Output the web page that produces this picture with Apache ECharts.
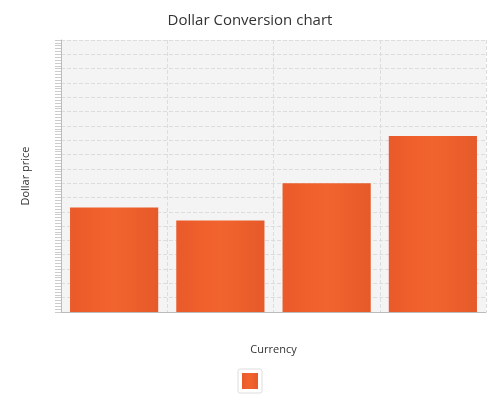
<!DOCTYPE html>
<html>
<head>
<meta charset="utf-8">
<script src="https://cdn.jsdelivr.net/npm/echarts@6/dist/echarts.min.js"></script>
<style>html,body{margin:0;padding:0;background:#fff}#chart{width:500px;height:400px}</style>
</head>
<body>
<div id="chart"></div>
<script>
var categories = ['A', 'B', 'C', 'D'];
var prices = [7.3, 6.4, 9.0, 12.3];

var chartDom = document.getElementById('chart');
var myChart = echarts.init(chartDom);
var option;

option = {
  title: {
    text: 'Dollar Conversion chart',
    left: 'center',
    top: 8,
    textStyle: { fontFamily: 'Open Sans', fontWeight: 'normal', fontSize: 15, color: '#333' }
  },
  legend: {
    bottom: 7,
    left: 'center',
    itemWidth: 16,
    itemHeight: 16,
    padding: 4,
    itemGap: 0,
    borderColor: '#ddd',
    borderWidth: 1,
    borderRadius: 2,
    formatter: function () { return ''; },
    data: [{ name: ' ', icon: 'rect' }]
  },
  grid: { left: 61, right: 14, top: 40, bottom: 88, backgroundColor: '#f4f4f4', show: true, borderWidth: 0 },
  xAxis: {
    type: 'category',
    data: categories,
    name: 'Currency',
    nameLocation: 'middle',
    nameGap: 32,
    nameTextStyle: { fontFamily: 'Open Sans', fontSize: 11, color: '#333' },
    axisLine: { lineStyle: { color: '#bbb' } },
    axisTick: { alignWithLabel: true, length: 10, lineStyle: { color: '#bbb' } },
    axisLabel: { show: false },
    splitLine: { show: true, lineStyle: { color: '#ddd', type: 'dashed' } }
  },
  yAxis: {
    type: 'value',
    min: 0,
    max: 19,
    interval: 1,
    name: 'Dollar price',
    nameLocation: 'middle',
    nameGap: 30,
    nameTextStyle: { fontFamily: 'Open Sans', fontSize: 11, color: '#333' },
    axisLine: { show: true, lineStyle: { color: '#bbb' } },
    axisTick: { show: true, inside: false, length: 6, lineStyle: { color: '#ccc' } },
    minorTick: { show: true, splitNumber: 5, length: 6, lineStyle: { color: '#ccc' } },
    axisLabel: { show: false },
    splitLine: { lineStyle: { color: '#ddd', type: 'dashed' } }
  },
  series: [
    {
      name: ' ',
      type: 'bar',
      data: prices,
      barCategoryGap: '17%',
      itemStyle: {
        color: new echarts.graphic.LinearGradient(0, 0, 1, 0, [
          { offset: 0, color: '#ea5a2a' },
          { offset: 0.5, color: '#f2642e' },
          { offset: 1, color: '#e65a2a' }
        ])
      }
    }
  ]
};

option && myChart.setOption(option);
</script>
</body>
</html>
